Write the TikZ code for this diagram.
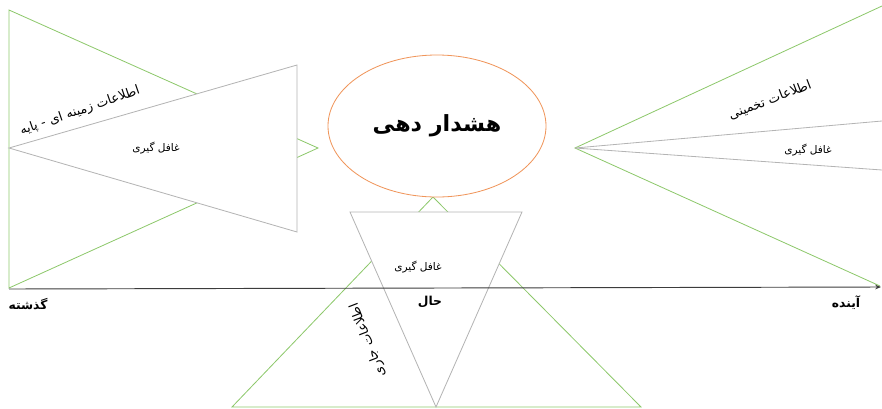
\documentclass[tikz,border=0pt]{standalone}
\usepackage{fontspec}
\usepackage{xcolor}
\newfontfamily\arabicfont[Script=Arabic]{DejaVu Sans}
\TeXXeTstate=1
\usetikzlibrary{arrows.meta, shapes.geometric}

\definecolor{zonegreen}{HTML}{8DC86B}
\definecolor{zonegray}{HTML}{B4B4B4}
\definecolor{alertorange}{HTML}{F0955A}
\definecolor{axisgray}{HTML}{3C3C3C}

\tikzset{
  greenline/.style={draw=zonegreen, line width=0.7pt},
  grayline/.style={draw=zonegray, line width=0.7pt, fill=white},
  fatext/.style={font=\arabicfont\fontsize{9}{11}\selectfont, inner sep=1pt},
  falong/.style={font=\arabicfont\fontsize{11}{13}\selectfont, inner sep=1pt},
  fabold/.style={font=\arabicfont\bfseries\fontsize{10.5}{12}\selectfont, inner sep=1pt},
}

\begin{document}
\begin{tikzpicture}[x=0.03cm, y=-0.03cm]
\useasboundingbox (0,0) rectangle (882,408);
% Past: wide green cone and grey surprise cone
\coordinate (pastTop) at (9,10);
\coordinate (pastBot) at (9,288);
\coordinate (pastTip) at (318,148);
\draw[greenline] (pastTop) -- (pastTip) -- (pastBot) -- cycle;
\coordinate (pastApex) at (9,148);
\coordinate (pastUp) at (297,65);
\coordinate (pastLow) at (297,232);
\draw[grayline] (pastApex) -- (pastUp) -- (pastLow) -- cycle;
% Future: opening cones
\coordinate (futApex) at (575,148);
\coordinate (futTop) at (882,6);
\coordinate (futBot) at (880,286);
\coordinate (futMidUp) at (882,121);
\coordinate (futMidLow) at (882,170);
\draw[greenline] (futTop) -- (futApex) -- (futBot);
\draw[zonegray, line width=0.7pt] (futMidUp) -- (futApex) -- (futMidLow);
% Present: green cone under grey funnel
\coordinate (nowTip) at (433,197);
\coordinate (nowLeft) at (232,407);
\coordinate (nowRight) at (641,407);
\draw[greenline] (nowTip) -- (nowLeft) -- (nowRight) -- cycle;
\coordinate (funLeft) at (350,212);
\coordinate (funRight) at (522,212);
\coordinate (funTip) at (436,407);
\draw[grayline] (funLeft) -- (funRight) -- (funTip) -- cycle;
% Alert oval
\node[ellipse, draw=alertorange, line width=0.7pt, fill=white, minimum width=6.54cm, minimum height=4.26cm,
  font=\arabicfont\bfseries\fontsize{19}{22}\selectfont] (alertOval) at (437,126) {\beginR هشدار دهی\endR};
% Time axis
\coordinate (timeStart) at (9,289);
\coordinate (timeEnd) at (881,287);
\draw[axisgray, line width=0.8pt, -{Stealth[length=5pt, width=4pt]}] (timeStart) -- (timeEnd);
% Labels
\node[fabold] (pastLbl) at (28,304) {\beginR گذشته\endR};
\node[fabold] (futLbl) at (846,303) {\beginR آینده\endR};
\node[fabold] (nowLbl) at (430,302) {\beginR حال\endR};
\node[falong, rotate=19] (baseInfo) at (80,111) {\beginR اطلاعات زمینه ای - پایه\endR};
\node[fatext] (pastSurp) at (156,148) {\beginR غافل گیری\endR};
\node[falong, rotate=21] (guessInfo) at (770,100) {\beginR اطلاعات تخمینی\endR};
\node[fatext] (futSurp) at (808,150) {\beginR غافل گیری\endR};
\node[fatext] (nowSurp) at (418,267) {\beginR غافل گیری\endR};
\node[falong, rotate=111] (curInfo) at (368,340) {\beginR اطلاعات جاری\endR};
\end{tikzpicture}
\end{document}
